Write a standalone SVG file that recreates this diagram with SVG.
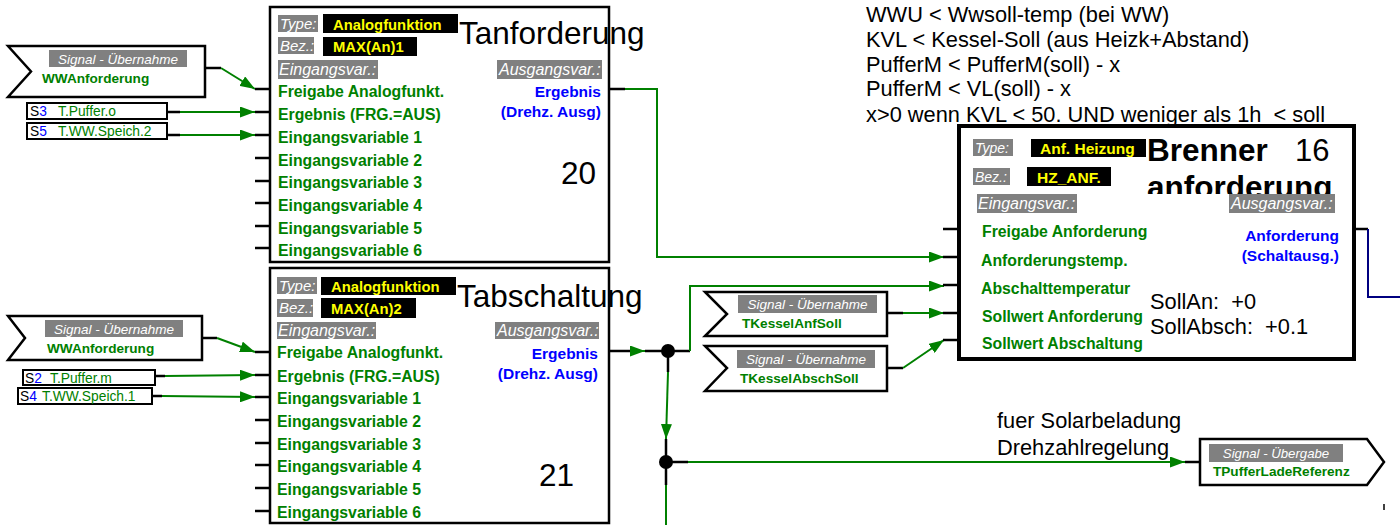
<svg xmlns="http://www.w3.org/2000/svg" width="1400" height="525" viewBox="0 0 1400 525">
<style>
text{font-family:"Liberation Sans",Arial,sans-serif}
.box{fill:#fff;stroke:#000;stroke-width:2.5}
.sig{fill:#fff;stroke:#000;stroke-width:2.5}
.sb{fill:#fff;stroke:#000;stroke-width:2}
.gb{fill:#808080}
.bb{fill:#000}
.gt{font-style:italic;fill:#fff;font-size:15px}
.gt2{font-style:italic;fill:#fff;font-size:16px}
.st{font-style:italic;fill:#fff;font-size:13.5px;text-anchor:middle}
.yt{font-weight:bold;fill:#ffff00;font-size:14.8px}
.in{font-weight:bold;fill:#008000;font-size:15.8px}
.sn{font-weight:bold;fill:#008000;font-size:13.6px}
.out{font-weight:bold;fill:#0000ff;font-size:15.5px;text-anchor:end}
.big{font-size:31.5px;fill:#000}
.note{font-size:21.8px;fill:#000}
.s{font-size:13.8px;fill:#000}
.tk{stroke:#000;stroke-width:2.5;fill:none}
.g{stroke:#008000;stroke-width:2;fill:none}
</style>
<defs>
<marker id="ah" markerUnits="userSpaceOnUse" markerWidth="15" markerHeight="11" refX="15" refY="5.5" orient="auto">
<path d="M0,0 L15,5.5 L0,11 z" fill="#008000"/>
</marker>
<clipPath id="clipAnf"><rect x="1140" y="160" width="220" height="34"/></clipPath>
</defs>

<!-- top-right notes -->
<g id="notes">
<text class="note" x="866" y="22">WWU &lt; Wwsoll-temp (bei WW)</text>
<text class="note" x="866" y="46.8">KVL &lt; Kessel-Soll (aus Heizk+Abstand)</text>
<text class="note" x="866" y="71.6">PufferM &lt; PufferM(soll) - x</text>
<text class="note" x="866" y="96.4">PufferM &lt; VL(soll) - x</text>
<text class="note" x="866" y="121.5" xml:space="preserve">x&gt;0 wenn KVL &lt; 50. UND weniger als 1h  &lt; soll</text>
</g>

<!-- connectors -->
<g id="connectors">
<line class="tk" x1="205" y1="68" x2="221" y2="68"/>
<line class="g" x1="221" y1="68" x2="255" y2="89" marker-end="url(#ah)"/>
<line class="tk" x1="167" y1="112" x2="180" y2="112"/>
<line class="g" x1="180" y1="112" x2="255" y2="112" marker-end="url(#ah)"/>
<line class="tk" x1="167" y1="135" x2="180" y2="135"/>
<line class="g" x1="180" y1="135" x2="255" y2="135" marker-end="url(#ah)"/>
<line class="tk" x1="202" y1="338" x2="217" y2="338"/>
<line class="g" x1="217" y1="338" x2="255" y2="352" marker-end="url(#ah)"/>
<line class="tk" x1="155" y1="376" x2="165" y2="376"/>
<line class="g" x1="165" y1="376" x2="255" y2="375" marker-end="url(#ah)"/>
<line class="tk" x1="152" y1="396" x2="162" y2="396"/>
<line class="g" x1="162" y1="396" x2="255" y2="397" marker-end="url(#ah)"/>
<line class="tk" x1="609" y1="89" x2="625" y2="89"/>
<polyline class="g" points="625,89 657,89 657,257 944,257" marker-end="url(#ah)"/>
<line class="tk" x1="609" y1="351" x2="630" y2="351"/>
<line class="g" x1="630" y1="351" x2="645" y2="351" marker-end="url(#ah)"/>
<line class="tk" x1="645" y1="351" x2="690" y2="351"/>
<polyline class="g" points="690,351 690,286 944,286" marker-end="url(#ah)"/>
<line class="tk" x1="668" y1="351" x2="668" y2="372"/>
<line class="g" x1="668" y1="372" x2="666" y2="439" marker-end="url(#ah)"/>
<line class="tk" x1="666" y1="439" x2="666" y2="485"/>
<line class="tk" x1="666" y1="462" x2="688" y2="462"/>
<line class="g" x1="688" y1="462" x2="1185" y2="462" marker-end="url(#ah)"/>
<line class="tk" x1="1185" y1="462" x2="1200" y2="462"/>
<line class="g" x1="666" y1="485" x2="666" y2="525"/>
<circle cx="668" cy="351" r="7" fill="#000"/>
<circle cx="666" cy="462" r="7" fill="#000"/>
<line class="tk" x1="887" y1="313" x2="903" y2="313"/>
<line class="g" x1="903" y1="313" x2="944" y2="313" marker-end="url(#ah)"/>
<line class="tk" x1="887" y1="368" x2="903" y2="368"/>
<line class="g" x1="903" y1="368" x2="944" y2="340" marker-end="url(#ah)"/>
<line class="tk" x1="1354" y1="229" x2="1368" y2="229"/>
<polyline points="1368,229 1368,297 1400,297" fill="none" stroke="#000080" stroke-width="2"/>
<line x1="1384" y1="504" x2="1384" y2="510" stroke="#000" stroke-width="1.5"/>
</g>

<!-- signal nodes -->
<g id="sig-wwanf-1">
<polygon class="sig" points="8,46 205,46 205,97 8,97 31,71.5"/>
<rect class="gb" x="49" y="50" width="138" height="17"/>
<text class="st" x="118" y="63.5">Signal - Übernahme</text>
<text class="sn" x="42" y="83">WWAnforderung</text>
</g>
<g id="sig-s3">
<rect class="sb" x="27" y="103" width="140" height="16"/>
<text class="s" x="30" y="116">S<tspan fill="#0000ff">3</tspan><tspan fill="#008000" x="58">T.Puffer.o</tspan></text>
</g>
<g id="sig-s5">
<rect class="sb" x="27" y="123" width="140" height="16"/>
<text class="s" x="30" y="136">S<tspan fill="#0000ff">5</tspan><tspan fill="#008000" x="58">T.WW.Speich.2</tspan></text>
</g>
<g id="sig-wwanf-2">
<polygon class="sig" points="8,316 202,316 202,360 8,360 25,338"/>
<rect class="gb" x="45" y="320" width="138" height="17"/>
<text class="st" x="114" y="333.5">Signal - Übernahme</text>
<text class="sn" x="47" y="353">WWAnforderung</text>
</g>
<g id="sig-s2">
<rect class="sb" x="23" y="370" width="132" height="15"/>
<text class="s" x="25" y="383">S<tspan fill="#0000ff">2</tspan><tspan fill="#008000" x="50">T.Puffer.m</tspan></text>
</g>
<g id="sig-s4">
<rect class="sb" x="18" y="388" width="134" height="16"/>
<text class="s" x="20" y="401">S<tspan fill="#0000ff">4</tspan><tspan fill="#008000" x="42">T.WW.Speich.1</tspan></text>
</g>
<g id="sig-kesselanf">
<polygon class="sig" points="705,292 887,292 887,336 705,336 727,314"/>
<rect class="gb" x="738" y="295" width="139" height="18"/>
<text class="st" x="807.5" y="309">Signal - Übernahme</text>
<text class="sn" x="742" y="328">TKesselAnfSoll</text>
</g>
<g id="sig-kesselabsch">
<polygon class="sig" points="705,346 887,346 887,391 705,391 727,368"/>
<rect class="gb" x="737" y="350" width="138" height="18"/>
<text class="st" x="806" y="364">Signal - Übernahme</text>
<text class="sn" x="740" y="383">TKesselAbschSoll</text>
</g>
<g id="sig-pufferlade">
<polygon class="sig" points="1200,439 1367,439 1384,462 1367,485 1200,485"/>
<rect class="gb" x="1209" y="444" width="134" height="18"/>
<text class="st" x="1276" y="457.5" style="font-size:13.2px">Signal - Übergabe</text>
<text class="sn" x="1213" y="476">TPufferLadeReferenz</text>
</g>

<!-- block 20 -->
<g id="block20">
<g class="tk">
<line x1="255" y1="89" x2="270" y2="89"/><line x1="255" y1="112" x2="270" y2="112"/>
<line x1="255" y1="135" x2="270" y2="135"/><line x1="255" y1="158" x2="270" y2="158"/>
<line x1="255" y1="181" x2="270" y2="181"/><line x1="255" y1="203" x2="270" y2="203"/>
<line x1="255" y1="226" x2="270" y2="226"/><line x1="255" y1="248" x2="270" y2="248"/>
</g>
<rect class="box" x="270" y="7" width="339" height="255"/>
<rect class="gb" x="278" y="15" width="40" height="17"/>
<rect class="bb" x="323" y="14" width="135" height="19"/>
<rect class="gb" x="278" y="37" width="36" height="17"/>
<rect class="bb" x="323" y="37" width="94" height="19"/>
<rect class="gb" x="278" y="60" width="100" height="19"/>
<rect class="gb" x="497" y="60" width="105" height="19"/>
<text class="gt" x="280" y="29">Type:</text>
<text class="yt" x="333" y="29.5">Analogfunktion</text>
<text class="gt" x="280" y="51">Bez.:</text>
<text class="yt" x="333" y="52">MAX(An)1</text>
<text class="gt2" x="279" y="75">Eingangsvar.:</text>
<text class="gt2" x="499" y="75">Ausgangsvar.:</text>
<text class="big" x="459" y="44">Tanforderung</text>
<text class="in" x="278" y="96.5">Freigabe Analogfunkt.</text>
<text class="in" x="278" y="119.5">Ergebnis (FRG.=AUS)</text>
<text class="in" x="278" y="142.5">Eingangsvariable 1</text>
<text class="in" x="278" y="165.5">Eingangsvariable 2</text>
<text class="in" x="278" y="188">Eingangsvariable 3</text>
<text class="in" x="278" y="211">Eingangsvariable 4</text>
<text class="in" x="278" y="233.5">Eingangsvariable 5</text>
<text class="in" x="278" y="256">Eingangsvariable 6</text>
<text class="out" x="601" y="96.5">Ergebnis</text>
<text class="out" x="601" y="116.5">(Drehz. Ausg)</text>
<text class="big" x="561" y="184">20</text>
</g>

<!-- block 21 -->
<g id="block21">
<g class="tk">
<line x1="255" y1="352" x2="270" y2="352"/><line x1="255" y1="375" x2="270" y2="375"/>
<line x1="255" y1="397" x2="270" y2="397"/><line x1="255" y1="420" x2="270" y2="420"/>
<line x1="255" y1="443" x2="270" y2="443"/><line x1="255" y1="465" x2="270" y2="465"/>
<line x1="255" y1="488" x2="270" y2="488"/><line x1="255" y1="511" x2="270" y2="511"/>
</g>
<rect class="box" x="270" y="268" width="339" height="255"/>
<rect class="gb" x="277" y="277" width="40" height="17"/>
<rect class="bb" x="321" y="277" width="135" height="18"/>
<rect class="gb" x="277" y="299" width="36" height="18"/>
<rect class="bb" x="321" y="298" width="95" height="20"/>
<rect class="gb" x="277" y="322" width="99" height="17"/>
<rect class="gb" x="495" y="322" width="104" height="17"/>
<text class="gt" x="279" y="291">Type:</text>
<text class="yt" x="331" y="291.5">Analogfunktion</text>
<text class="gt" x="279" y="313">Bez.:</text>
<text class="yt" x="331" y="313.5">MAX(An)2</text>
<text class="gt2" x="278" y="336">Eingangsvar.:</text>
<text class="gt2" x="497" y="336">Ausgangsvar.:</text>
<text class="big" x="457" y="307">Tabschaltung</text>
<text class="in" x="277" y="358">Freigabe Analogfunkt.</text>
<text class="in" x="277" y="381.5">Ergebnis (FRG.=AUS)</text>
<text class="in" x="277" y="404">Eingangsvariable 1</text>
<text class="in" x="277" y="427">Eingangsvariable 2</text>
<text class="in" x="277" y="449.5">Eingangsvariable 3</text>
<text class="in" x="277" y="472">Eingangsvariable 4</text>
<text class="in" x="277" y="495">Eingangsvariable 5</text>
<text class="in" x="277" y="517.5">Eingangsvariable 6</text>
<text class="out" x="598" y="358.5">Ergebnis</text>
<text class="out" x="598" y="378.5">(Drehz. Ausg)</text>
<text class="big" x="539" y="486">21</text>
</g>

<!-- block 16 -->
<g id="block16">
<g class="tk">
<line x1="943" y1="229" x2="959" y2="229"/><line x1="943" y1="257" x2="959" y2="257"/>
<line x1="943" y1="285" x2="959" y2="285"/><line x1="943" y1="313" x2="959" y2="313"/>
<line x1="943" y1="340" x2="959" y2="340"/>
</g>
<rect x="959" y="126" width="395" height="233" fill="#fff" stroke="#000" stroke-width="4"/>
<rect class="gb" x="973" y="139" width="40" height="17"/>
<rect class="bb" x="1031" y="139" width="115" height="18"/>
<rect class="gb" x="973" y="168" width="37" height="17"/>
<rect class="bb" x="1027" y="167" width="84" height="19"/>
<rect class="gb" x="977" y="194" width="100" height="19"/>
<rect class="gb" x="1229" y="194" width="106" height="19"/>
<text class="gt" x="975" y="153" style="font-size:14px">Type:</text>
<text class="yt" x="1040" y="153.5" style="font-size:15.5px">Anf. Heizung</text>
<text class="gt" x="975" y="182" style="font-size:14px">Bez.:</text>
<text class="yt" x="1037" y="182.5" style="font-size:15.5px">HZ_ANF.</text>
<text class="gt2" x="978" y="209">Eingangsvar.:</text>
<text class="gt2" x="1231" y="209">Ausgangsvar.:</text>
<text x="1147" y="161" style="font-size:31.5px;font-weight:bold">Brenner</text>
<text x="1295" y="161" style="font-size:31px">16</text>
<text x="1147" y="198" style="font-size:31.5px;font-weight:bold" clip-path="url(#clipAnf)">anforderung</text>
<text class="in" x="982" y="237">Freigabe Anforderung</text>
<text class="in" x="981" y="266">Anforderungstemp.</text>
<text class="in" x="981" y="293.5">Abschalttemperatur</text>
<text class="in" x="982" y="322">Sollwert Anforderung</text>
<text class="in" x="982" y="348.5">Sollwert Abschaltung</text>
<text class="out" x="1339" y="240.5">Anforderung</text>
<text class="out" x="1339" y="260.5">(Schaltausg.)</text>
<text class="note" x="1150" y="309" xml:space="preserve">SollAn:  +0</text>
<text class="note" x="1150" y="334" xml:space="preserve">SollAbsch:  +0.1</text>
</g>

<g id="labels">
<text class="note" x="997" y="428">fuer Solarbeladung</text>
<text class="note" x="997" y="455">Drehzahlregelung</text>
</g>
</svg>
